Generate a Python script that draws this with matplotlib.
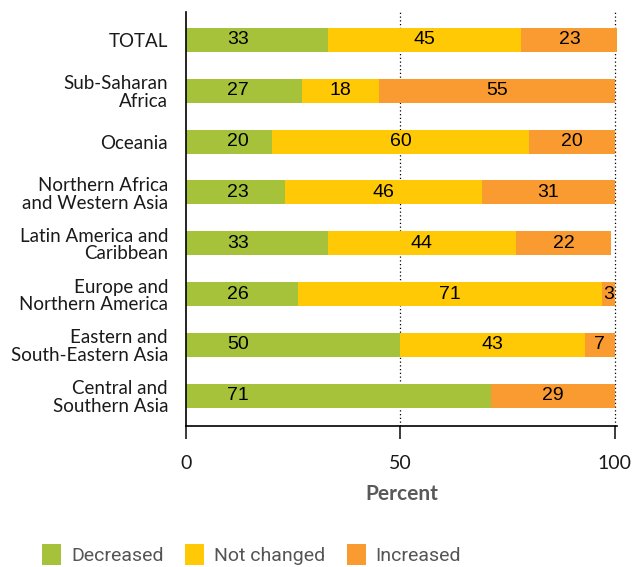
import numpy as np
import matplotlib.pyplot as plt
from matplotlib.patches import Patch

# regions, top to bottom
regions = [
    "TOTAL",
    "Sub-Saharan\nAfrica",
    "Oceania",
    "Northern Africa\nand Western Asia",
    "Latin America and\nCaribbean",
    "Europe and\nNorthern America",
    "Eastern and\nSouth-Eastern Asia",
    "Central and\nSouthern Asia",
]

decreased = [33, 27, 20, 23, 33, 26, 50, 71]
not_changed = [45, 18, 60, 46, 44, 71, 43, 0]
increased = [23, 55, 20, 31, 22, 3, 7, 29]

series_names = ["Decreased", "Not changed", "Increased"]
colors = ["#A6C23A", "#FFC905", "#F99B31"]

fig = plt.figure(figsize=(6.42, 5.67), dpi=100)
ax = fig.add_axes([0.29, 0.249, 0.671, 0.73])

y = np.arange(len(regions))
left = np.zeros(len(regions))
for vals, col in zip([decreased, not_changed, increased], colors):
    vals = np.array(vals, dtype=float)
    ax.barh(y, vals, left=left, height=0.47, color=col, zorder=2)
    for i, v in enumerate(vals):
        if v <= 0:
            continue
        if col == colors[0]:
            xpos = 12
        else:
            xpos = left[i] + v / 2
        ax.text(xpos, y[i], f"{v:g}", ha="center", va="center",
                fontsize=14, family="Liberation Sans", color="black", zorder=3)
    left += vals

ax.set_xlim(0, 100.5)
ax.set_ylim(len(regions) - 0.41, -0.55)
ax.set_xticks([0, 50, 100])
ax.set_yticks(y)
ax.set_yticklabels(regions, family="Lato", fontsize=13.5, color="#1a1a1a",
                   linespacing=1.05)
ax.tick_params(axis="y", length=0, pad=13)
ax.tick_params(axis="x", direction="out", length=9, width=1.2, pad=12,
               labelsize=14, colors="#1a1a1a")
for lbl in ax.get_xticklabels():
    lbl.set_family("Lato")

for xv in [50, 100]:
    ax.axvline(xv, color="black", linestyle=(0, (1, 2)), linewidth=0.9, zorder=1)

for s in ["top", "right"]:
    ax.spines[s].set_visible(False)
ax.spines["left"].set_linewidth(1.2)
ax.spines["bottom"].set_linewidth(1.2)

ax.set_xlabel("Percent", family="Lato", fontsize=15, fontweight="bold",
              color="#595959", labelpad=9)

handles = [Patch(facecolor=c, edgecolor="none") for c in colors]
fig.legend(handles, series_names, loc="center left",
           bbox_to_anchor=(0.05, 0.022), ncol=3, frameon=False,
           prop={"family": "Roboto", "size": 14},
           labelcolor="#555555", handlelength=1.0, handleheight=1.25,
           handletextpad=0.5, columnspacing=1.1, borderpad=0)

fig.savefig("out.png", dpi=100)
